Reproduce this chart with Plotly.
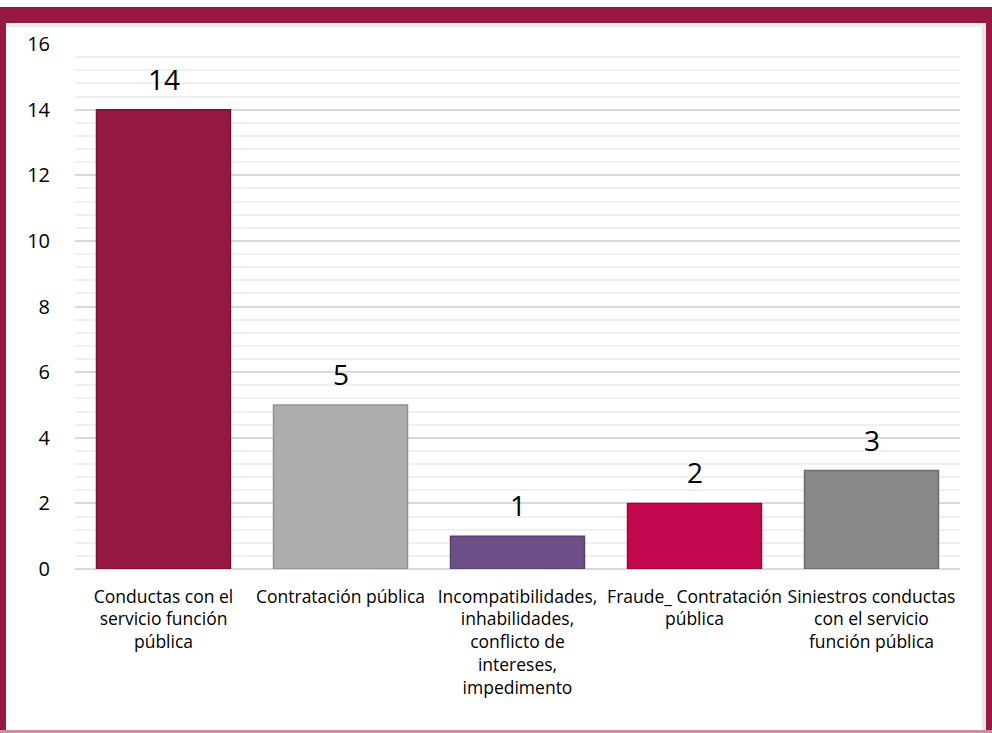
import plotly.graph_objects as go

categories = [
    "Conductas con el<br>servicio función<br>pública",
    "Contratación pública",
    "Incompatibilidades,<br>inhabilidades,<br>conflicto de<br>intereses,<br>impedimento",
    "Fraude_ Contratación<br>pública",
    "Siniestros conductas<br>con el servicio<br>función pública",
]
values = [14, 5, 1, 2, 3]
bar_colors = ["#951942", "#ADADAD", "#6E5088", "#C2094F", "#888888"]
edge_colors = ["#7a1235", "#8f8f8f", "#584070", "#a0063f", "#6c6c6c"]

W, H = 992, 733
ML, MR, MT, MB = 75, 32, 44, 164
PW, PH = W - ML - MR, H - MT - MB

def px_x(p):
    return (p - ML) / PW

def px_y(p):
    return (H - MB - p) / PH

FRAME = "#951942"

fig = go.Figure(
    go.Bar(
        x=categories,
        y=values,
        marker=dict(color=bar_colors, line=dict(color=edge_colors, width=1.5)),
        cliponaxis=False,
    )
)

for c, v in zip(categories, values):
    fig.add_annotation(
        x=c, y=v, xref="x", yref="y", text=str(v), showarrow=False,
        yanchor="bottom", yshift=10,
        font=dict(size=28, color="#000000", family="Open Sans"),
    )

shapes = [
    dict(type="rect", xref="paper", yref="paper", x0=px_x(0), x1=px_x(W),
         y0=px_y(23), y1=px_y(7), fillcolor=FRAME, line=dict(width=0)),
    dict(type="rect", xref="paper", yref="paper", x0=px_x(0), x1=px_x(6),
         y0=px_y(H), y1=px_y(7), fillcolor=FRAME, line=dict(width=0)),
    dict(type="rect", xref="paper", yref="paper", x0=px_x(982), x1=px_x(987),
         y0=px_y(H), y1=px_y(23), fillcolor="#e6e6e6", line=dict(width=0)),
    dict(type="rect", xref="paper", yref="paper", x0=px_x(986), x1=px_x(W),
         y0=px_y(H), y1=px_y(7), fillcolor=FRAME, line=dict(width=0)),
    dict(type="rect", xref="paper", yref="paper", x0=px_x(6), x1=px_x(986),
         y0=px_y(27), y1=px_y(23), fillcolor="#ececec", line=dict(width=0)),
    dict(type="rect", xref="paper", yref="paper", x0=px_x(0), x1=px_x(W),
         y0=px_y(H), y1=px_y(H - 3), fillcolor="#d48aa3", line=dict(width=0)),
]

fig.update_layout(
    width=W, height=H,
    margin=dict(l=ML, r=MR, t=MT, b=MB, autoexpand=False),
    paper_bgcolor="white",
    plot_bgcolor="white",
    bargap=0.243,
    showlegend=False,
    shapes=shapes,
    font=dict(family="Open Sans", color="#000000"),
    xaxis=dict(
        showgrid=False, showline=False, ticks="",
        tickfont=dict(size=17.5, color="#000000"),
        tickangle=0,
        ticklabelstandoff=15,
    ),
    yaxis=dict(
        range=[0, 16], dtick=2, tick0=0,
        showgrid=True, gridcolor="#d9d9d9", gridwidth=2,
        zeroline=True, zerolinecolor="#d9d9d9", zerolinewidth=2,
        minor=dict(dtick=0.4, showgrid=True, gridcolor="#f0f0f0", gridwidth=1.5),
        ticks="", showline=False,
        tickfont=dict(size=20, color="#000000"),
        ticklabelstandoff=24,
    ),
)

fig.write_html(
    "out.html",
    config={"displayModeBar": False},
    post_script="document.body.style.margin='0';document.body.style.overflow='hidden';",
)
